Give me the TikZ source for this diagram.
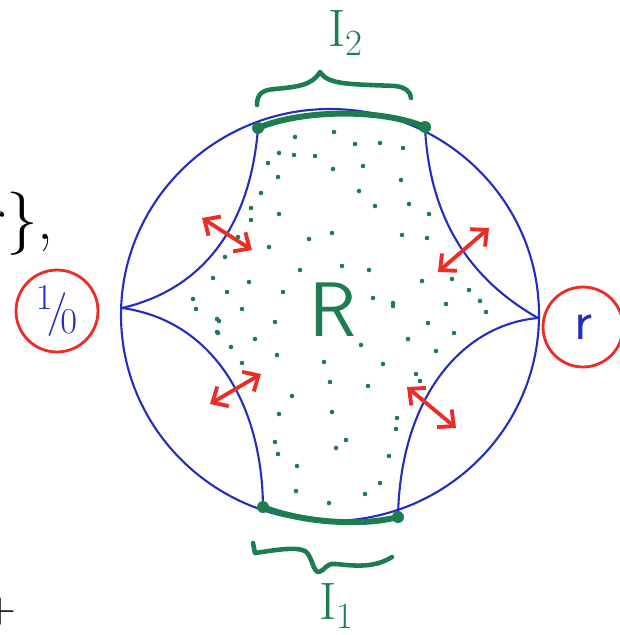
\documentclass[tikz,border=0pt]{standalone}
\usepackage{amsmath,amssymb}
\usepackage{tikz}
\usetikzlibrary{arrows.meta,positioning,calc}
\definecolor{penblue}{RGB}{35,45,190}
\definecolor{pengreen}{RGB}{30,125,80}
\definecolor{penred}{RGB}{235,45,40}

\begin{document}
\begin{tikzpicture}[x=0.02cm,y=-0.02cm,
  bluecurve/.style={penblue,line width=1.2pt},
  greenedge/.style={pengreen,line width=3.4pt,line cap=round},
  bracestroke/.style={pengreen,line width=2.6pt,line cap=round,line join=round},
  twoway/.style={penred,line width=2.2pt,line cap=round,{Straight Barb[length=7pt,width=13pt]}-{Straight Barb[length=7pt,width=13pt]}},
  endpoint/.style={circle,draw=penred,line width=1.6pt,text=penblue,inner sep=0pt}]
  \useasboundingbox (0,0) rectangle (619,635); % 画像の大きさ
  \coordinate (tl) at (258,128); % 上側の区間の左端
  \coordinate (tr) at (425,127); % 上側の区間の右端
  \coordinate (bl) at (263,507); % 下側の区間の左端
  \coordinate (br) at (398,517); % 下側の区間の右端
  \coordinate (lc) at (122,308); % 左の尖点
  \coordinate (rc) at (538,318); % 右の尖点
  \draw[bluecurve] (330,315) ellipse [x radius=209, y radius=206]; % 外側の円
  \draw[bluecurve] (tl) .. controls (250,230) and (200,290) .. (lc); % 左上の境界曲線
  \draw[bluecurve] (lc) .. controls (210,320) and (262,400) .. (bl); % 左下の境界曲線
  \draw[bluecurve] (tr) .. controls (430,230) and (480,285) .. (rc); % 右上の境界曲線
  \draw[bluecurve] (rc) .. controls (460,325) and (400,400) .. (br); % 右下の境界曲線
  \draw[greenedge] (tl) .. controls (300,110) and (380,108) .. (tr); % 区間 I_2
  \draw[greenedge] (bl) .. controls (300,522) and (360,527) .. (br); % 区間 I_1
  \foreach \c in {tl,tr,bl,br} \fill[pengreen] (\c) circle [radius=6]; % 区間の端点
  \foreach \p in {(295,137),(334,132),(355,144),(380,143),(403,148),(279,153),(294,155),(315,156),
    (268,163),(333,169),(363,166),(278,177),(401,180),(261,193),(359,191),(375,206),(409,204),
    (251,208),(279,214),(429,214),(251,220),(332,233),(309,239),(402,235),(427,238),(238,237),
    (269,247),(225,257),(342,266),(369,270),(300,270),(213,278),(249,282),(422,281),(283,292),
    (227,292),(373,298),(393,303),(193,299),(196,309),(242,309),(219,321),(275,322),(393,306),
    (428,323),(218,333),(255,339),(408,339),(231,347),(361,345),(436,351),(277,355),(242,363),
    (324,362),(383,364),(416,374),(420,381),(330,382),(368,386),(292,396),(279,414),(332,412),
    (397,418),(396,429),(275,442),(346,440),(336,448),(278,454),(389,456),(297,466),(380,483),
    (296,491),(365,494),(329,503),(452,279),(469,290),(446,304),(480,301),(486,312),(454,333),
    (217,319),(217,332)}
    \fill[pengreen] \p circle [radius=2.3]; % 領域 R の点描
  \node[pengreen,font=\sffamily\fontsize{44}{44}\selectfont] (region) at (333,310) {R}; % 領域の名前
  \draw[bracestroke] (257,105) .. controls (257,94) and (262,90) .. (275,89)
    .. controls (295,87) and (312,86) .. (320,72)
    .. controls (328,85) and (350,84) .. (395,86)
    .. controls (405,87) and (411,92) .. (411,98); % 上の波括弧
  \draw[bracestroke] (253,543) -- (255,553) .. controls (270,551) and (295,546) .. (305,551)
    .. controls (312,555) and (313,573) .. (319,572)
    .. controls (326,570) and (325,563) .. (336,564)
    .. controls (355,566) and (375,568) .. (392,557); % 下の波括弧
  \node[pengreen,font=\fontsize{30}{30}\selectfont] (itwo) at (346,33) {I\textsubscript{2}}; % 上の区間のラベル
  \node[pengreen,font=\fontsize{30}{30}\selectfont] (ione) at (337,606) {I\textsubscript{1}}; % 下の区間のラベル
  \node[endpoint,minimum size=1.64cm,font=\fontsize{28}{28}\selectfont] (zero) at (57,311) {$^1\!/\!_0$}; % 左の赤丸
  \node[endpoint,minimum size=1.6cm,font=\sffamily\fontsize{32}{32}\selectfont] (rpt) at (583,327) {r}; % 右の赤丸
  \coordinate (a1s) at (202,218); \coordinate (a1e) at (252,250); % 左上の矢印
  \coordinate (a2s) at (438,272); \coordinate (a2e) at (489,228); % 右上の矢印
  \coordinate (a3s) at (210,404); \coordinate (a3e) at (261,374); % 左下の矢印
  \coordinate (a4s) at (407,387); \coordinate (a4e) at (456,428); % 右下の矢印
  \foreach \k in {1,2,3,4} \draw[twoway] (a\k s) -- (a\k e); % 赤い両向き矢印
  \node[anchor=east,font=\fontsize{36}{36}\selectfont] (cutl) at (60,224) {r\},}; % 左端で切れた文字
  \node[font=\fontsize{30}{30}\selectfont] (cutb) at (0,612) {$+$}; % 左下で切れた記号
\end{tikzpicture}
\end{document}
